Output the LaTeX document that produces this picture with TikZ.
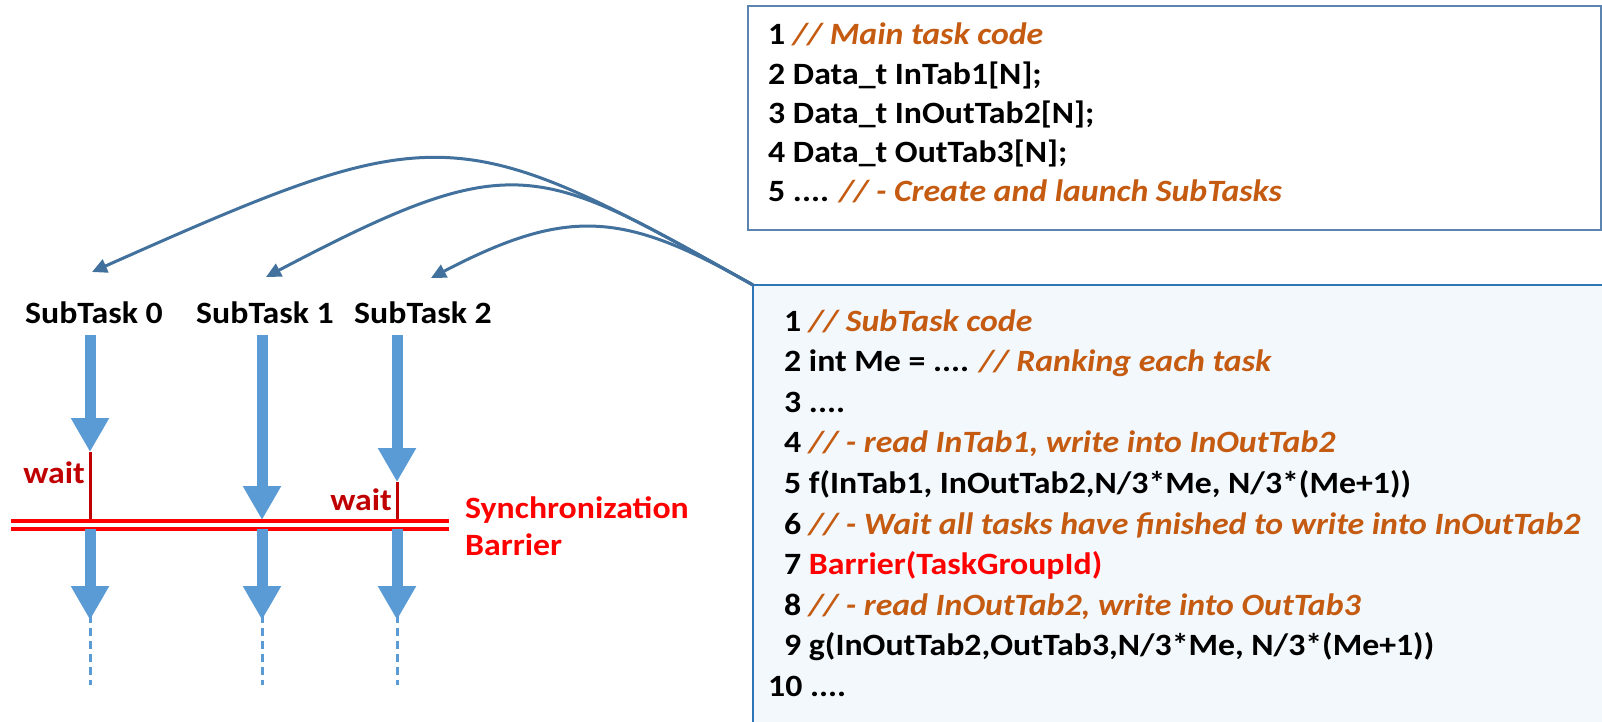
\documentclass[tikz,border=0pt]{standalone}
\usepackage{fontspec}
\setmainfont{Carlito}[FakeStretch=1.09]
\usetikzlibrary{arrows.meta}
\definecolor{flow}{HTML}{5B9BD5}
\definecolor{curvec}{HTML}{41719C}
\definecolor{cmt}{HTML}{C55A11}
\definecolor{barred}{HTML}{FF0000}
\definecolor{waitred}{HTML}{C00000}
\definecolor{mainframe}{HTML}{5B84B1}
\definecolor{subframe}{HTML}{2E75B6}
\definecolor{subfill}{HTML}{F2F8FC}
\newcommand\cmtxt[1]{{\color{cmt}\itshape #1}}
\begin{document}
\begin{tikzpicture}[x=1pt,y=-1pt,
  codeline/.style={anchor=base west, inner sep=0pt, font=\fontsize{31}{37}\selectfont\bfseries},
  tasklabel/.style={anchor=base, inner sep=0pt, font=\fontsize{31}{37}\selectfont\bfseries},
  waitlabel/.style={anchor=base east, inner sep=0pt, text=waitred, font=\fontsize{31}{36}\selectfont\bfseries},
  synclabel/.style={anchor=base west, inner sep=0pt, text=barred, font=\fontsize{31}{36}\selectfont\bfseries},
  flowarrow/.style={draw=flow, line width=11pt, -{Triangle[length=34pt,width=36pt]}, fill=flow},
  flowdash/.style={draw=flow, line width=3pt, dash pattern=on 8pt off 5pt},
  waitline/.style={draw=waitred, line width=3pt},
  barline/.style={draw=barred, line width=3.5pt},
  curvearrow/.style={draw=curvec, line width=3pt, -{Triangle[length=15pt,width=14pt]}}
]
\useasboundingbox (0,0) rectangle (1602,721);

% code boxes
\node[draw=mainframe, line width=2pt, fill=white, minimum width=853pt, minimum height=224pt,
      anchor=north west, inner sep=0pt] (mainbox) at (747,5) {};
\node[fill=subfill, minimum width=860pt, minimum height=440pt, anchor=north west, inner sep=0pt]
      (subbox) at (753,285) {};
\draw[draw=subframe, line width=2.5pt] (subbox.south west) -- (subbox.north west) -- (subbox.north east);

% main task code
\node[codeline] (m1) at (768,44) {1 \cmtxt{// Main task code}};
\node[codeline] (m2) at (768,84) {2 Data\_t InTab1[N];};
\node[codeline] (m3) at (768,123) {3 Data\_t InOutTab2[N];};
\node[codeline] (m4) at (768,162) {4 Data\_t OutTab3[N];};
\node[codeline] (m5) at (768,201) {5 .... \cmtxt{// - Create and launch SubTasks}};

% subtask code
\node[codeline] (s1) at (784,331) {1 \cmtxt{// SubTask code}};
\node[codeline] (s2) at (784,371.6) {2 int Me = .... \cmtxt{// Ranking each task}};
\node[codeline] (s3) at (784,412.2) {3 ....};
\node[codeline] (s4) at (784,452.8) {4 \cmtxt{// - read InTab1, write into InOutTab2}};
\node[codeline] (s5) at (784,493.4) {5 f(InTab1, InOutTab2,N/3*Me, N/3*(Me+1))};
\node[codeline] (s6) at (784,534) {6 \cmtxt{// - Wait all tasks have finished to write into InOutTab2}};
\node[codeline] (s7) at (784,574.6) {7 {\color{barred}Barrier(TaskGroupId)}};
\node[codeline] (s8) at (784,615.2) {8 \cmtxt{// - read InOutTab2, write into OutTab3}};
\node[codeline] (s9) at (784,655.8) {9 g(InOutTab2,OutTab3,N/3*Me, N/3*(Me+1))};
\node[codeline] (s10) at (768,696.4) {10 ....};

% subtask labels
\node[tasklabel] (st0) at (94,323) {SubTask 0};
\node[tasklabel] (st1) at (265,323) {SubTask 1};
\node[tasklabel] (st2) at (423,323) {SubTask 2};

% curved launch arrows
\coordinate (t0) at (92,272);
\coordinate (t1) at (266,277);
\coordinate (t2) at (431,278);
\draw[curvearrow] (subbox.north west) .. controls (455,118) and (438,118) .. (t0);
\draw[curvearrow] (subbox.north west) .. controls (537,164) and (517,145) .. (t1);
\draw[curvearrow] (subbox.north west) .. controls (625,212) and (569,206) .. (t2);

% flow coordinates
\coordinate (a0) at (90,335);  \coordinate (h0) at (90,452);
\coordinate (a1) at (262,335); \coordinate (h1) at (262,520);
\coordinate (a2) at (397,335); \coordinate (h2) at (397,482);
\coordinate (b0) at (90,529);  \coordinate (e0) at (90,620);  \coordinate (d0) at (90,685);
\coordinate (b1) at (262,529); \coordinate (e1) at (262,620); \coordinate (d1) at (262,685);
\coordinate (b2) at (397,529); \coordinate (e2) at (397,620); \coordinate (d2) at (397,685);
\coordinate (w0) at (90,521);  \coordinate (w2) at (397,521);
\coordinate (bl) at (11,521);  \coordinate (br) at (449,521);
\coordinate (bl2) at (11,529); \coordinate (br2) at (449,529);

% wait lines
\draw[waitline] (h0) -- (w0);
\draw[waitline] (h2) -- (w2);

% barrier
\draw[barline] (bl) -- (br);
\draw[barline] (bl2) -- (br2);

% flow arrows
\draw[flowarrow] (a0) -- (h0);
\draw[flowarrow] (a1) -- (h1);
\draw[flowarrow] (a2) -- (h2);
\draw[flowarrow] (b0) -- (e0);
\draw[flowarrow] (b1) -- (e1);
\draw[flowarrow] (b2) -- (e2);
\draw[flowdash] ([yshift=5pt]e0) -- (d0);
\draw[flowdash] ([yshift=5pt]e1) -- (d1);
\draw[flowdash] ([yshift=5pt]e2) -- (d2);

% labels
\node[waitlabel] (wt0) at (85,483) {wait};
\node[waitlabel] (wt2) at (392,510) {wait};
\node[synclabel] (sync) at (465,518) {Synchronization};
\node[synclabel] (barr) at (465,555) {Barrier};
\end{tikzpicture}
\end{document}
